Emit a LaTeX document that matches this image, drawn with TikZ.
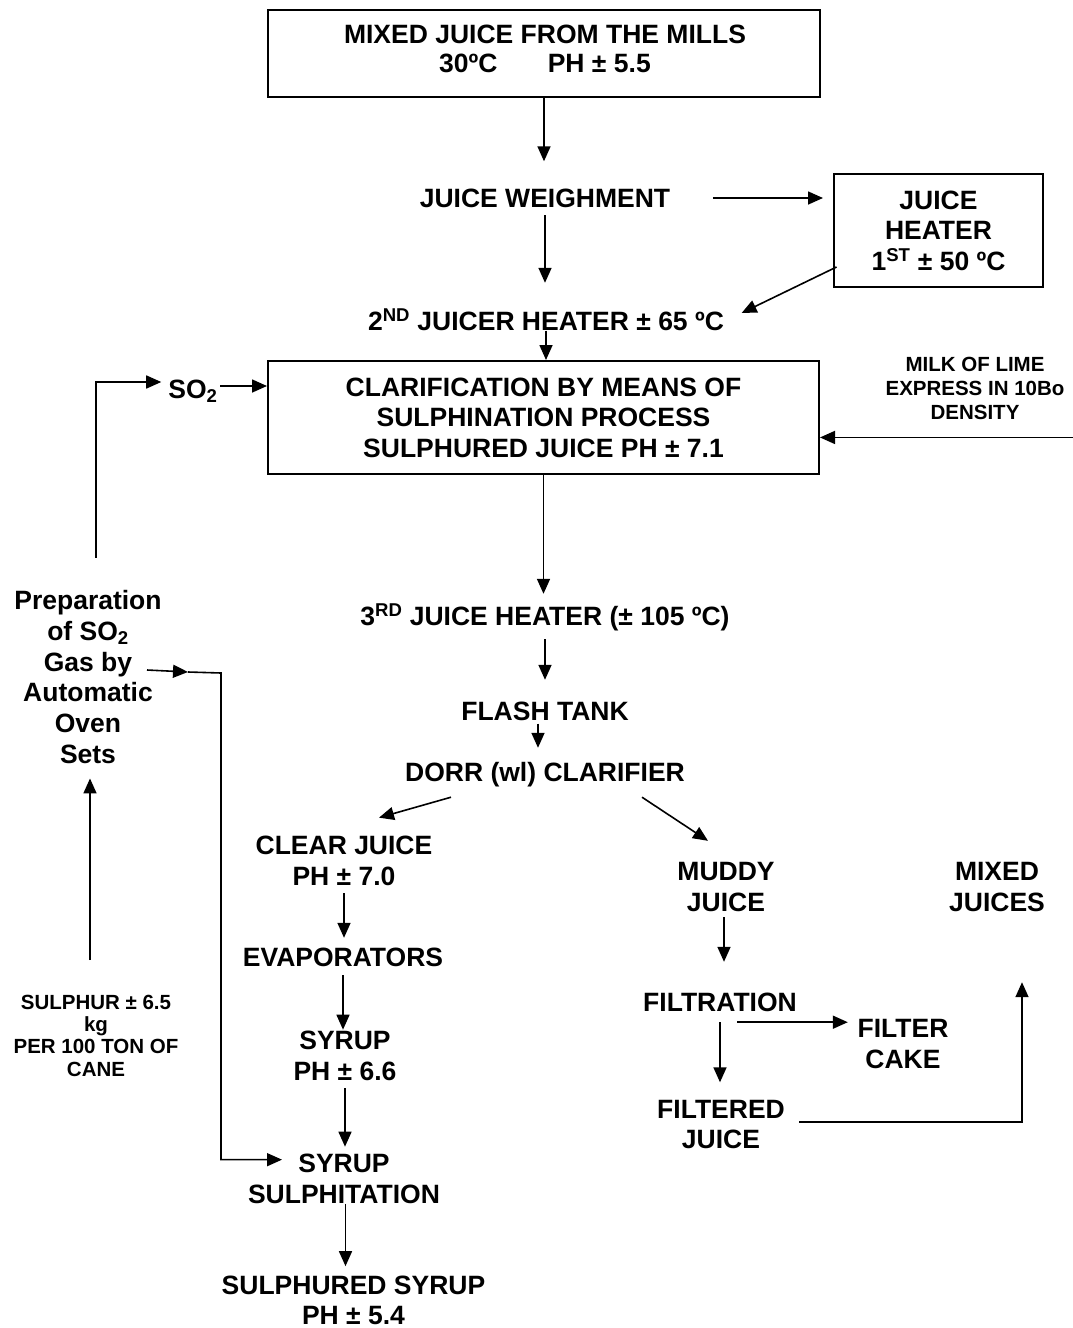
\documentclass[tikz,border=0pt]{standalone}
\usepackage{fontspec}
\setmainfont{Liberation Sans}
\usetikzlibrary{arrows.meta}
\begin{document}
\begin{tikzpicture}[x=1pt,y=-1pt,
  lbl/.style={font=\fontsize{26.5}{30.5}\selectfont\bfseries, align=center, inner sep=0pt},
  one/.style={lbl, text height=19pt, text depth=0pt},
  sml/.style={font=\fontsize{20.5}{22.3}\selectfont\bfseries, align=center, inner sep=0pt},
  boxn/.style={lbl, draw, line width=2pt, inner sep=0pt},
  arr/.style={-{Triangle[length=15pt,width=13pt]}, line width=1.6pt}]
\useasboundingbox (0,0) rectangle (1073,1328);

% nodes
\node[boxn, minimum width=552pt, minimum height=87pt] (top) at (544,53.5) {};
\node[lbl, font=\fontsize{26.5}{29}\selectfont\bfseries] (toptext) at (545,48.5)
  {MIXED JUICE FROM THE MILLS\\30ºC\hspace{1.9em}PH ± 5.5};
\node[one] (jw) at (545,198) {JUICE WEIGHMENT};
\node[boxn, minimum width=209pt, minimum height=113pt] (jh) at (938.5,230.5)
  {JUICE\\HEATER\\1\textsuperscript{ST} ± 50 ºC};
\node[one] (h2) at (546,321) {2\textsuperscript{ND} JUICER HEATER ± 65 ºC};
\node[boxn, minimum width=551pt, minimum height=113pt] (clar) at (543.5,417.5)
  {CLARIFICATION BY MEANS OF\\SULPHINATION PROCESS\\SULPHURED JUICE PH ± 7.1};
\node[one] (so2) at (193,389) {SO\textsubscript{2}};
\node[sml, font=\fontsize{20.5}{24}\selectfont\bfseries] (milk) at (975,388)
  {MILK OF LIME\\EXPRESS IN 10Bo\\DENSITY};
\node[one] (h3) at (545,616) {3\textsuperscript{RD} JUICE HEATER (± 105 ºC)};
\node[one] (flash) at (545,711) {FLASH TANK};
\node[one] (dorr) at (545,772) {DORR (wl) CLARIFIER};
\node[lbl] (clear) at (344,861) {CLEAR JUICE\\PH ± 7.0};
\node[one] (evap) at (343,957) {EVAPORATORS};
\node[lbl] (syrup) at (345,1056) {SYRUP\\PH ± 6.6};
\node[lbl] (ssulph) at (344,1179) {SYRUP\\SULPHITATION};
\node[lbl] (ssyrup) at (353.5,1300.5) {SULPHURED SYRUP\\PH ± 5.4};
\node[lbl] (muddy) at (726,887) {MUDDY\\JUICE};
\node[one] (filt) at (720,1002) {FILTRATION};
\node[lbl] (cake) at (903,1044) {FILTER\\CAKE};
\node[lbl] (filtered) at (721,1124.5) {FILTERED\\JUICE};
\node[lbl] (mixed) at (997,887) {MIXED\\JUICES};
\node[lbl, font=\fontsize{26.5}{30.8}\selectfont\bfseries] (prep) at (88,677)
  {Preparation\\of SO\textsubscript{2}\\Gas by\\Automatic\\Oven\\Sets};
\node[sml] (sulphur) at (96,1035.5) {SULPHUR ± 6.5\\kg\\PER 100 TON OF\\CANE};

% connectors
\draw[arr, shorten >=27pt] (top.south) -- (top.south |- jw.north);
\draw[arr, shorten <=42.5pt, shorten >=10pt] (jw.east) -- (jw.east -| jh.west);
\draw[arr, shorten <=7.5pt, shorten >=28.5pt] (jw.south) -- (jw.south |- h2.north);
\draw[arr] ([xshift=3.5pt,yshift=-36.5pt]jh.west) -- ([xshift=17.5pt,yshift=8pt]h2.east);
\draw[arr] (h2.south) -- (h2.south |- clar.north);

\coordinate (s0) at ([yshift=3pt]so2.east);
\draw[arr, shorten <=2.5pt] (s0) -- (s0 -| clar.west);
\coordinate (p0) at ([xshift=8pt,yshift=32.5pt]prep.north);
\coordinate (p1) at ([yshift=7pt]so2.west);
\draw[arr, shorten >=7pt] (p0) |- (p1);

\coordinate (m0) at ([xshift=98pt,yshift=-18pt]milk.south);
\draw[arr] (m0) -- (m0 -| clar.east);

\draw[arr, shorten >=12.5pt] (clar.south) -- (clar.south |- h3.north);
\draw[arr, shorten <=13.5pt, shorten >=21.5pt] (h3.south) -- (h3.south |- flash.north);
\coordinate (f0) at ([xshift=-7pt]flash.south);
\draw[arr, shorten <=3pt, shorten >=14.5pt] (f0) -- (f0 |- dorr.north);

\draw[arr] ([xshift=-94pt,yshift=-15.5pt]dorr.south) -- ([xshift=35pt,yshift=18.5pt]clear.north);
\draw[arr] ([xshift=97pt,yshift=-15.5pt]dorr.south) -- ([xshift=-18pt,yshift=21.5pt]muddy.north);

\draw[arr, shorten <=7.5pt, shorten >=9.5pt] (clear.south) -- (clear.south |- evap.north);
\draw[arr, shorten <=8.5pt, shorten >=1.5pt] (evap.south) -- (evap.south |- syrup.north);
\draw[arr, shorten <=7.5pt, shorten >=7.5pt] (syrup.south) -- (syrup.south |- ssulph.north);
\coordinate (ss0) at ([xshift=1.5pt]ssulph.south);
\draw[arr, shorten >=9.5pt] (ss0) -- (ss0 |- ssyrup.north);

\coordinate (mu0) at ([xshift=-2pt]muddy.south);
\draw[arr, shorten <=5.5pt, shorten >=30.5pt] (mu0) -- (mu0 |- filt.north);
\coordinate (fi0) at ([xshift=17pt,yshift=-10.5pt]filt.south);
\draw[arr, shorten >=9.6pt] (fi0) -- (fi0 -| cake.west);
\coordinate (fi1) at ([yshift=-10.5pt]filt.south);
\draw[arr, shorten >=17.5pt] (fi1) -- (fi1 |- filtered.north);
\coordinate (fj0) at ([xshift=14pt,yshift=2.5pt]filtered.east);
\coordinate (mx0) at ([xshift=25pt,yshift=-70.5pt]mixed.south);
\draw[arr] (fj0) -| (mx0);

\coordinate (g0) at ([xshift=59pt,yshift=7pt]prep.center);
\draw[arr] (g0) -- ++(41,2) coordinate (g1);
\coordinate (g3) at ([xshift=-62pt,yshift=-5.5pt]ssulph.north);
\draw[arr] (g1) -- ++(33,1) |- (g3);

\coordinate (su0) at ([xshift=-6pt,yshift=34.6pt]sulphur.north);
\draw[arr, shorten >=14.5pt] (su0) -- (su0 |- prep.south);
\end{tikzpicture}
\end{document}
